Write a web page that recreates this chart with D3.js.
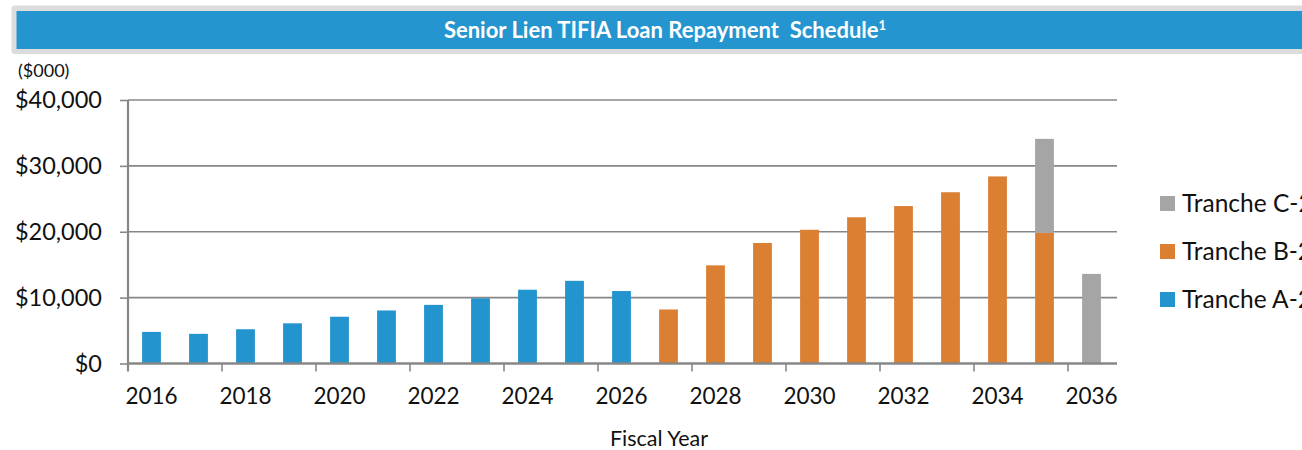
<!DOCTYPE html>
<html>
<head>
<meta charset="utf-8">
<script src="https://cdn.jsdelivr.net/npm/d3@7"></script>
<style>
  body { margin: 0; background: #fff; overflow: hidden; }
  text { font-family: Lato, "Open Sans", sans-serif; }
</style>
</head>
<body>
<svg id="chart"></svg>
<script>
const years = ["2016","2017","2018","2019","2020","2021","2022","2023","2024","2025","2026",
               "2027","2028","2029","2030","2031","2032","2033","2034","2035","2036"];
const trancheA = [4800,4500,5200,6100,7100,8050,8900,9900,11200,12550,11000,0,0,0,0,0,0,0,0,0,0];
const trancheB = [0,0,0,0,0,0,0,0,0,0,0,8200,14900,18300,20300,22200,23900,26000,28400,19850,0];
const trancheC = [0,0,0,0,0,0,0,0,0,0,0,0,0,0,0,0,0,0,0,14250,13600];
const seriesNames = ["Tranche A-2", "Tranche B-2", "Tranche C-2"];
const yTicks = [0, 10000, 20000, 30000, 40000];
const xLabels = ["2016","2018","2020","2022","2024","2026","2028","2030","2032","2034","2036"];

const axisGrey = "#878787";
const ink = "#111";
const color = d3.scaleOrdinal()
  .domain(seriesNames)
  .range(["#2394ce", "#db8033", "#a5a5a5"]);

const W = 1302, H = 450;
const plot = { left: 128, right: 1115, top: 100, bottom: 363.5 };

const svg = d3.select("#chart")
  .attr("width", W)
  .attr("height", H);

// Title bar
svg.append("rect")
  .attr("x", 11.5).attr("y", 5.5)
  .attr("width", W).attr("height", 48.5)
  .attr("rx", 3)
  .attr("fill", "#dcdcdc");
svg.append("rect")
  .attr("x", 16.5).attr("y", 11)
  .attr("width", W).attr("height", 38)
  .attr("fill", "#2495cf");
const title = svg.append("text")
  .attr("x", 665)
  .attr("y", 38)
  .attr("text-anchor", "middle")
  .style("font-size", "22px")
  .style("font-weight", "bold")
  .style("fill", "#fff")
  .attr("xml:space", "preserve")
  .text("Senior Lien TIFIA Loan Repayment  Schedule");
title.append("tspan")
  .attr("dy", -8)
  .style("font-size", "13px")
  .text("1");

// Scales
const x = d3.scaleBand()
  .domain(years)
  .range([plot.left, plot.right])
  .paddingInner(0.6)
  .paddingOuter(0.3);

const y = d3.scaleLinear()
  .domain([0, 40000])
  .range([plot.bottom, plot.top]);

// Gridlines
svg.append("g")
  .selectAll("line")
  .data(yTicks.filter(d => d > 0))
  .join("line")
  .attr("x1", plot.left).attr("x2", plot.right + 2)
  .attr("y1", d => y(d)).attr("y2", d => y(d))
  .attr("stroke", axisGrey)
  .attr("stroke-width", 1.6);

// Stacked bars
const rows = years.map((yr, i) => ({
  year: yr,
  "Tranche A-2": trancheA[i],
  "Tranche B-2": trancheB[i],
  "Tranche C-2": trancheC[i]
}));
const stacked = d3.stack().keys(seriesNames)(rows);

svg.append("g")
  .selectAll("g")
  .data(stacked)
  .join("g")
  .attr("fill", d => color(d.key))
  .selectAll("rect")
  .data(d => d.filter(p => p[1] > p[0]))
  .join("rect")
  .attr("x", d => x(d.data.year))
  .attr("width", x.bandwidth())
  .attr("y", d => y(d[1]))
  .attr("height", d => y(d[0]) - y(d[1]));

// Y axis
const yAxis = svg.append("g")
  .attr("transform", `translate(${plot.left},0)`)
  .call(d3.axisLeft(y)
    .tickValues(yTicks)
    .tickSize(8)
    .tickPadding(18)
    .tickFormat(d => "$" + d3.format(",")(d)));
yAxis.select(".domain").remove();
yAxis.selectAll("line").attr("stroke", axisGrey).attr("stroke-width", 1.6);
yAxis.selectAll("text")
  .attr("fill", ink)
  .style("font-size", "23.5px")
  .style("font-family", "Lato, sans-serif");
svg.append("line")
  .attr("x1", plot.left).attr("x2", plot.left)
  .attr("y1", plot.top).attr("y2", plot.bottom + 8)
  .attr("stroke", axisGrey).attr("stroke-width", 2.2);

// X axis: line, boundary ticks every two years, labels on even years
svg.append("line")
  .attr("x1", plot.left).attr("x2", plot.right + 2)
  .attr("y1", plot.bottom).attr("y2", plot.bottom)
  .attr("stroke", axisGrey).attr("stroke-width", 2.4);

svg.append("g")
  .selectAll("line")
  .data(d3.range(2, years.length + 1, 2))
  .join("line")
  .attr("x1", i => plot.left + i * x.step())
  .attr("x2", i => plot.left + i * x.step())
  .attr("y1", plot.bottom).attr("y2", plot.bottom + 8)
  .attr("stroke", axisGrey).attr("stroke-width", 1.6);

const xAxis = svg.append("g")
  .attr("transform", `translate(0,${plot.bottom})`)
  .call(d3.axisBottom(x).tickValues(xLabels).tickSize(0).tickPadding(25));
xAxis.select(".domain").remove();
xAxis.selectAll("text")
  .attr("fill", ink)
  .style("font-size", "22.5px")
  .style("font-family", "Lato, sans-serif");

// Axis titles
svg.append("text")
  .attr("x", 18).attr("y", 77)
  .style("font-size", "18px")
  .style("fill", ink)
  .text("($000)");

svg.append("text")
  .attr("x", 659).attr("y", 446)
  .attr("text-anchor", "middle")
  .style("font-size", "21.5px")
  .style("fill", ink)
  .text("Fiscal Year");

// Legend (runs past the right edge, clipped as in the source)
const legend = svg.append("g")
  .attr("transform", "translate(1160,196)");
seriesNames.slice().reverse().forEach((label, i) => {
  const g = legend.append("g")
    .attr("transform", `translate(0,${i * 48})`);
  g.append("rect")
    .attr("width", 15)
    .attr("height", 15)
    .attr("fill", color(label));
  g.append("text")
    .attr("x", 22)
    .attr("y", 16)
    .text(label)
    .attr("fill", ink)
    .style("font-size", "24.5px");
});
</script>
</body>
</html>
